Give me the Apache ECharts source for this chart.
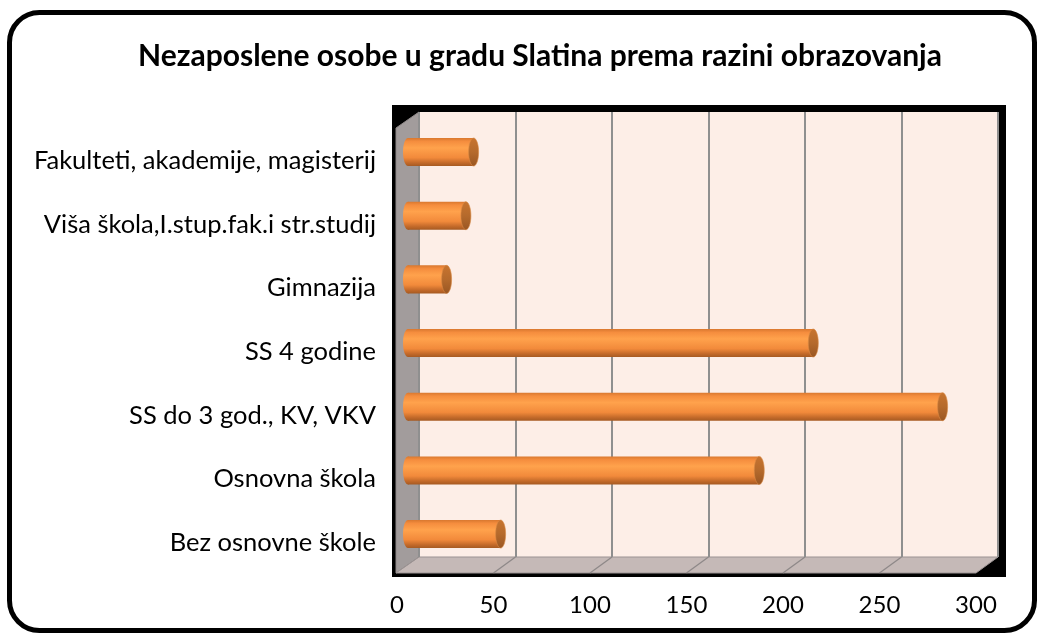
<!DOCTYPE html>
<html>
<head>
<meta charset="utf-8">
<script src="https://cdn.jsdelivr.net/npm/echarts@6/dist/echarts.min.js"></script>
<style>
  html, body { margin: 0; padding: 0; background: #fff; }
  #chart { width: 1044px; height: 639px; }
</style>
</head>
<body>
<div id="chart"></div>
<script>
// categories top -> bottom
var categories = [
  'Fakulteti, akademije, magisterij',
  'Viša škola,I.stup.fak.i str.studij',
  'Gimnazija',
  'SS 4 godine',
  'SS do 3 god., KV, VKV',
  'Osnovna škola',
  'Bez osnovne škole'
];
var counts = [34, 30, 20, 210, 277, 182, 48];
var ticks = [0, 50, 100, 150, 200, 250, 300];

var font = 'Lato, "Open Sans", sans-serif';

// box geometry (decoration only)
var backL = 419, backR = 998, backT = 112, backB = 557;
var frontL = 397, frontR = 976, frontB = 573;
var step = (backR - backL) / (ticks.length - 1);

var deco = [
  // outer rounded frame
  { type: 'rect', z: 100, shape: { x: 9.5, y: 12.5, width: 1025, height: 618, r: 30 },
    style: { fill: 'none', stroke: '#000', lineWidth: 5 } },
  // black plot frame
  { type: 'rect', z: -20, shape: { x: 392, y: 105, width: 614, height: 472 }, style: { fill: '#000' } },
  // back wall
  { type: 'rect', z: -15, shape: { x: backL, y: backT, width: backR - backL, height: backB - backT },
    style: { fill: '#fdeee7' } },
  // left wall
  { type: 'polygon', z: -15, shape: { points: [[frontL - 1, 128], [backL, backT], [backL, backB], [frontL - 1, frontB]] },
    style: { fill: '#a29c9c', stroke: '#8e8888', lineWidth: 1 } },
  // floor
  { type: 'polygon', z: -15, shape: { points: [[backL, backB], [backR, backB], [frontR, frontB], [frontL - 1, frontB]] },
    style: { fill: '#c5b9b7', stroke: '#9b9393', lineWidth: 1 } }
];
for (var k = 1; k < ticks.length - 1; k++) {
  deco.push({ type: 'line', z: -14,
    shape: { x1: frontL + step * k, y1: frontB, x2: backL + step * k, y2: backB },
    style: { stroke: '#8e8888', lineWidth: 1.2 } });
}

function renderCylinder(params, api) {
  var val = api.value(0);
  var cat = api.value(1);
  var start = api.coord([0, cat]);
  var end = api.coord([val, cat]);
  var h = api.size([0, 1])[1] * 0.44;
  var rx = 5;
  var body = new echarts.graphic.LinearGradient(0, 0, 0, 1, [
    { offset: 0, color: '#d9782f' },
    { offset: 0.12, color: '#f58d3e' },
    { offset: 0.35, color: '#ffa24c' },
    { offset: 0.7, color: '#f28a3b' },
    { offset: 0.88, color: '#c46a2a' },
    { offset: 1, color: '#a65a22' }
  ]);
  var cap = new echarts.graphic.LinearGradient(0, 0, 0, 1, [
    { offset: 0, color: '#c8742f' },
    { offset: 0.5, color: '#b56a2c' },
    { offset: 1, color: '#9a5622' }
  ]);
  return {
    type: 'group',
    children: [
      { type: 'ellipse', shape: { cx: start[0], cy: start[1], rx: rx, ry: h / 2 }, style: { fill: body } },
      { type: 'rect', shape: { x: start[0], y: start[1] - h / 2, width: end[0] - start[0], height: h }, style: { fill: body } },
      { type: 'ellipse', shape: { cx: end[0], cy: end[1], rx: rx, ry: h / 2 },
        style: { fill: cap, stroke: '#d98a45', lineWidth: 0.6 } }
    ]
  };
}

var chart = echarts.init(document.getElementById('chart'));
chart.setOption({
  animation: false,
  backgroundColor: '#fff',
  title: {
    text: 'Nezaposlene osobe u gradu Slatina prema razini obrazovanja',
    left: 133,
    top: 36,
    textStyle: { fontFamily: font, fontSize: 30, fontWeight: 'bold', color: '#000' }
  },
  graphic: deco,
  grid: [
    // back wall gridlines
    { left: backL, top: backT, width: backR - backL, height: backB - backT },
    // bars (mid depth)
    { left: 408, top: 120.2, width: 579, height: 445.7 },
    // front plane labels
    { left: frontL, top: 129, width: 579, height: 445.7 }
  ],
  xAxis: [
    { gridIndex: 0, type: 'value', min: 0, max: 300, interval: 50,
      axisLine: { show: false }, axisTick: { show: false }, axisLabel: { show: false },
      splitLine: { show: true, lineStyle: { color: '#8f8f8f', width: 2 } } },
    { gridIndex: 1, type: 'value', min: 0, max: 300, interval: 50, show: false },
    { gridIndex: 2, type: 'value', min: 0, max: 300, interval: 50,
      axisLine: { show: false }, axisTick: { show: false }, splitLine: { show: false },
      axisLabel: { fontFamily: font, fontSize: 24, color: '#000', margin: 19 } }
  ],
  yAxis: [
    { gridIndex: 0, type: 'category', data: categories, inverse: true, show: false },
    { gridIndex: 1, type: 'category', data: categories, inverse: true, show: false },
    { gridIndex: 2, type: 'category', data: categories, inverse: true,
      axisLine: { show: false }, axisTick: { show: false }, splitLine: { show: false },
      axisLabel: { fontFamily: font, fontSize: 25.5, color: '#000', margin: 21 } }
  ],
  series: [{
    type: 'custom',
    xAxisIndex: 1,
    yAxisIndex: 1,
    renderItem: renderCylinder,
    encode: { x: 0, y: 1 },
    data: counts.map(function (v, i) { return [v, i]; })
  }]
});
</script>
</body>
</html>
